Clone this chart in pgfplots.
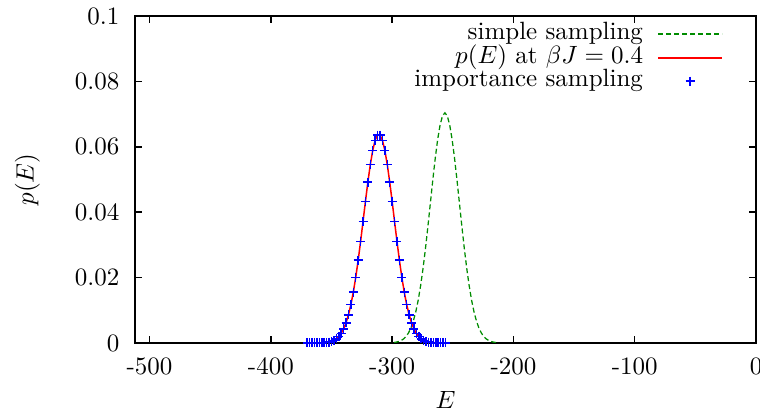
\documentclass[border=0pt]{standalone}
\usepackage{pgfplots}
\pgfplotsset{compat=1.18}

% simple sampling histogram (dashed green)
\pgfplotstableread{
E p
-298.5 0.000154
-296.5 0.000272
-294.5 0.000468
-292.5 0.000782
-290.5 0.001271
-288.5 0.002011
-286.5 0.003093
-284.5 0.004625
-282.5 0.006733
-280.5 0.009528
-278.5 0.01311
-276.5 0.01755
-274.5 0.02286
-272.5 0.02894
-270.5 0.03565
-268.5 0.04270
-266.5 0.04975
-264.5 0.05637
-262.5 0.06213
-260.5 0.06660
-258.5 0.06943
-256.5 0.07040
-254.5 0.06943
-252.5 0.06660
-250.5 0.06213
-248.5 0.05637
-246.5 0.04975
-244.5 0.04270
-242.5 0.03565
-240.5 0.02894
-238.5 0.02286
-236.5 0.01755
-234.5 0.01311
-232.5 0.009528
-230.5 0.006733
-228.5 0.004625
-226.5 0.003093
-224.5 0.002011
-222.5 0.001271
-220.5 0.000782
-218.5 0.000468
-216.5 0.000272
-214.5 0.000154
}\simple

% p(E) at beta J = 0.4 / importance sampling
\pgfplotstableread{
E p
-370 0.000001
-368 0.000002
-366 0.000004
-364 0.000008
-362 0.000016
-360 0.000029
-358 0.000054
-356 0.000098
-354 0.000172
-352 0.000294
-350 0.000491
-348 0.000798
-346 0.001266
-344 0.001956
-342 0.002946
-340 0.004325
-338 0.006189
-336 0.008635
-334 0.011739
-332 0.015558
-330 0.020096
-328 0.025305
-326 0.031055
-324 0.037148
-322 0.043317
-320 0.049233
-318 0.054541
-316 0.058895
-314 0.061989
-312 0.063596
-310 0.063596
-308 0.061989
-306 0.058895
-304 0.054541
-302 0.049233
-300 0.043317
-298 0.037148
-296 0.031055
-294 0.025305
-292 0.020096
-290 0.015558
-288 0.011739
-286 0.008635
-284 0.006189
-282 0.004325
-280 0.002946
-278 0.001956
-276 0.001266
-274 0.000798
-272 0.000491
-270 0.000294
-268 0.000172
-266 0.000098
-264 0.000054
-262 0.000029
-260 0.000016
-258 0.000008
-256 0.000004
}\exact

\definecolor{ssgreen}{rgb}{0,0.55,0}

\pgfplotsset{
  linelegend/.style={legend image code/.code={\draw[##1, line width=0.8pt] (0pt,0pt) -- (25.6pt,0pt);}},
  marklegend/.style={legend image code/.code={\draw[##1] plot coordinates {(12.8pt,0pt)};}},
}

\begin{document}
\begin{tikzpicture}
  \begin{axis}[
    scale only axis,
    width=248.4pt, height=130.8pt,
    xmin=-512, xmax=0,
    ymin=0, ymax=0.1,
    xtick={-500,-400,-300,-200,-100,0},
    xticklabels={-500,-400,-300,-200,-100,0},
    ytick={0,0.02,0.04,0.06,0.08,0.1},
    yticklabels={0,0.02,0.04,0.06,0.08,0.1},
    xticklabel style={yshift=-2.3pt},
    yticklabel style={xshift=-2.7pt},
    tick align=inside,
    major tick length=2.8pt,
    tick style={black, line width=0.6pt},
    axis line style={line width=0.8pt},
    minor tick num=0,
    xlabel={$E$},
    ylabel={$p(E)$},
    every axis x label/.style={at={(rel axis cs:0.5,0)}, anchor=center, yshift=-22.8pt},
    every axis y label/.style={at={(rel axis cs:0,0.5)}, anchor=center, rotate=90, yshift=43pt},
    legend plot pos=right,
    legend cell align=right,
    legend style={draw=none, fill=none, at={(1,1)}, anchor=north east,
      inner sep=0pt, outer sep=0pt, xshift=-13.2pt, yshift=-2.6pt,
      nodes={inner sep=0pt, text height=7pt, text depth=2.4pt},
      /tikz/column sep=5.6pt, /tikz/row sep=0pt},
  ]
    \addplot[ssgreen, line width=0.5pt, dash pattern=on 2pt off 1.2pt, linelegend]
      table {\simple};
    \addlegendentry{simple sampling}
    \addplot[red, line width=0.6pt, linelegend]
      table {\exact};
    \addlegendentry{$p(E)$ at $\beta J=0.4$}
    \addplot[blue, only marks, mark=+, mark size=1.8pt, line width=0.6pt, marklegend]
      table {\exact};
    \addlegendentry{importance sampling}
    \coordinate (ll) at (rel axis cs:0,0);
    \coordinate (ur) at (rel axis cs:1,1);
  \end{axis}
  \pgfresetboundingbox
  \path ([shift={(-54pt,-27.6pt)}]ll) rectangle ([shift={(1.6pt,6.4pt)}]ur);
\end{tikzpicture}
\end{document}
